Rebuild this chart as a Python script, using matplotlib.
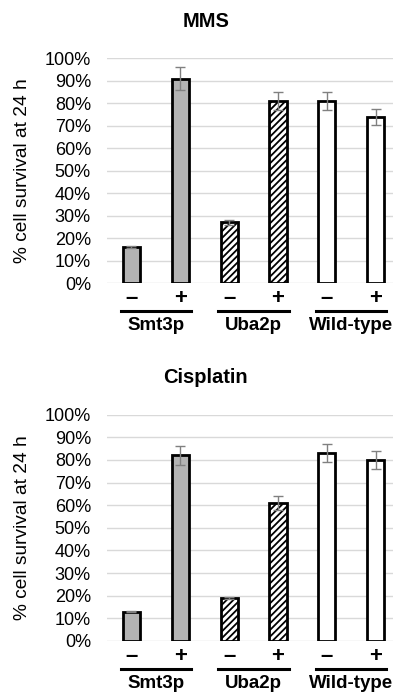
import matplotlib.pyplot as plt
import matplotlib.transforms as mtransforms

plt.rcParams['font.family'] = ['Liberation Sans', 'DejaVu Sans']
plt.rcParams['hatch.linewidth'] = 1.3

# data
groups = ['Smt3p', 'Uba2p', 'Wild-type']
signs = ['\u2013', '+', '\u2013', '+', '\u2013', '+']
mms_vals = [16, 91, 27, 81, 81, 74]
mms_err = [0.5, 5, 1, 4, 4, 3.5]
cis_vals = [13, 82, 19, 61, 83, 80]
cis_err = [0.4, 4, 0.5, 3, 4, 4]
fills = ['#b3b3b3', '#b3b3b3', 'white', 'white', 'white', 'white']
hatches = ['', '', '/////', '/////', '', '']

fig = plt.figure(figsize=(3.93, 6.94), dpi=100)
ax1 = fig.add_axes([0.272, 0.592, 0.74, 0.324])
ax2 = fig.add_axes([0.272, 0.0764, 0.74, 0.326])


def draw(ax, title, vals, errs):
    x = list(range(len(vals)))
    ax.bar(x, vals, width=0.35, color=fills, edgecolor='black', linewidth=2,
           hatch=hatches, zorder=3)
    ax.errorbar(x, vals, yerr=errs, fmt='none', ecolor='#808080',
                elinewidth=1, capsize=3.5, capthick=1, zorder=4)
    ax.set_ylim(0, 100)
    ax.set_xlim(-0.5, 5.45)
    ax.set_yticks(range(0, 101, 10))
    ax.set_yticklabels([f'{v}%' for v in range(0, 101, 10)], fontsize=13)
    ax.yaxis.grid(True, color='#d9d9d9', linewidth=1)
    ax.set_axisbelow(True)
    ax.tick_params(axis='y', length=0, pad=11.5)
    ax.set_xticks([])
    for s in ax.spines.values():
        s.set_visible(False)
    ax.set_ylabel('% cell survival at 24 h', fontsize=13.8)
    ax.yaxis.set_label_coords(-0.262, 0.5)
    ax.text(0.34, 1.165, title, transform=ax.transAxes, ha='center',
            va='center', fontsize=14.5, fontweight='bold')

    trans = mtransforms.blended_transform_factory(ax.transData, ax.transAxes)
    for i, s in enumerate(signs):
        ax.text(i, -0.067, s, transform=trans, ha='center', va='center',
                fontsize=16, fontweight='bold', clip_on=False)
    for g, name in enumerate(groups):
        i = 2 * g
        ax.plot([i - 0.22, i + 1.22], [-0.124, -0.124], color='black', lw=2.2,
                transform=trans, clip_on=False)
        ax.text(i + 0.5, -0.19, name, transform=trans, ha='center', va='center',
                fontsize=13.5, fontweight='bold', clip_on=False)


draw(ax1, 'MMS', mms_vals, mms_err)
draw(ax2, 'Cisplatin', cis_vals, cis_err)

fig.savefig('out.png', dpi=100)
